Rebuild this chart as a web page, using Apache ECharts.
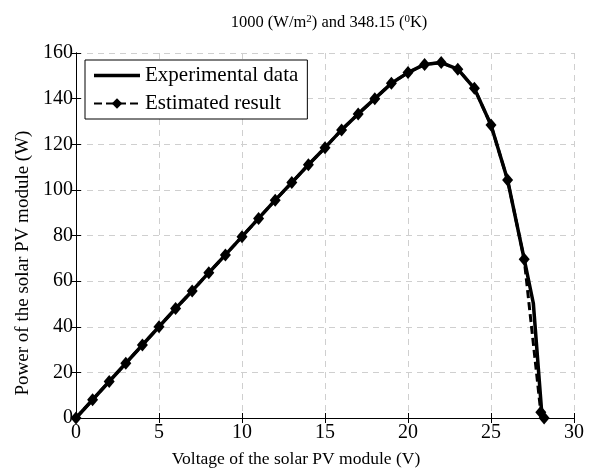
<!DOCTYPE html>
<html>
<head>
<meta charset="utf-8">
<script src="https://cdn.jsdelivr.net/npm/echarts@6/dist/echarts.min.js"></script>
<style>html,body{margin:0;padding:0;background:#fff}#c{width:597px;height:471px}</style>
</head>
<body>
<div id="c"></div>
<script>
// Data
var estVoltage = [0,1,2,3,4,5,6,7,8,9,10,11,12,13,14,15,16,17,18,19,20,21,22,23,24,25,26,27,28,28.2];
var estPower   = [0,8,16,24,32,40,48,55.7,63.7,71.5,79.5,87.5,95.5,103.2,111,118.5,126.3,133.3,140,146.7,151.4,155,155.8,152.9,144.5,128.4,104.3,69.6,2.5,0];
var expVoltage = [0,1,2,3,4,5,6,7,8,9,10,11,12,13,14,15,16,17,18,19,20,21,22,23,24,25,26,27,27.55,28.05,28.2];
var expPower   = [0,8,16,24,32,40,48,55.7,63.7,71.5,79.5,87.5,95.5,103.2,111,118.5,126.3,133.3,140,146.7,151.4,155,155.8,152.9,144.5,128.4,104.3,69.6,50.3,3,0];
var xTicks = {min: 0, max: 30, interval: 5};
var yTicks = {min: 0, max: 160, interval: 20};

function pairs(xs, ys) { return xs.map(function (x, i) { return [x, ys[i]]; }); }

var FONT = '"Liberation Serif", "Times New Roman", serif';
var chart = echarts.init(document.getElementById('c'), null, {renderer: 'canvas'});
chart.setOption({
  backgroundColor: '#fff',
  animation: false,
  textStyle: {fontFamily: FONT, color: '#000'},
  graphic: [{
    type: 'text', x: 329, y: 14,
    style: {
      text: '1000 (W/m{sup|2}) and 348.15 ({sup|0}K)',
      font: '16.5px ' + FONT, fill: '#000', align: 'center',
      rich: {sup: {fontSize: 11, fontFamily: FONT, verticalAlign: 'top', padding: [0, 0, 7, 0]}}
    }
  }, {
    type: 'text', x: 296, y: 450,
    style: {text: 'Voltage of the solar PV module (V)', font: '17.5px ' + FONT, fill: '#000', align: 'center'}
  }, {
    type: 'text', x: 14, y: 263, rotation: Math.PI / 2,
    style: {text: 'Power of the solar PV module (W)', font: '19px ' + FONT, fill: '#000', align: 'center'}
  }],
  grid: {left: 76, right: 23, top: 53, bottom: 53},
  legend: {
    left: 85, top: 60, orient: 'vertical',
    backgroundColor: '#fff', borderColor: '#000', borderWidth: 1, borderRadius: 0,
    padding: [5, 9, 5, 8], itemGap: 7, itemWidth: 46, itemHeight: 13,
    textStyle: {fontFamily: FONT, fontSize: 21, color: '#000'},
    data: [
      {name: 'Experimental data', icon: 'path://M0,0L46,0L46,3.5L0,3.5Z'},
      {name: 'Estimated result'}
    ]
  },
  xAxis: [{
    type: 'value', min: xTicks.min, max: xTicks.max, interval: xTicks.interval,
    axisLine: {show: true, lineStyle: {color: '#000', width: 1}},
    axisTick: {show: true, inside: true, length: 5, lineStyle: {color: '#000'}},
    axisLabel: {fontFamily: FONT, fontSize: 20, color: '#000', margin: 5},
    splitLine: {show: true, lineStyle: {color: '#cfcfcf', type: [6, 5], width: 1}}
  }, {
    type: 'value', position: 'top', min: xTicks.min, max: xTicks.max, interval: xTicks.interval,
    axisLine: {show: true, lineStyle: {color: '#000', width: 1}},
    axisTick: {show: true, inside: true, length: 5, lineStyle: {color: '#000'}},
    axisLabel: {show: false}, splitLine: {show: false}
  }],
  yAxis: [{
    type: 'value', min: yTicks.min, max: yTicks.max, interval: yTicks.interval,
    axisLine: {show: true, lineStyle: {color: '#000', width: 1}},
    axisTick: {show: true, inside: true, length: 5, lineStyle: {color: '#000'}},
    axisLabel: {fontFamily: FONT, fontSize: 20, color: '#000', margin: 3},
    splitLine: {show: true, lineStyle: {color: '#cfcfcf', type: [6, 5], width: 1}}
  }, {
    type: 'value', position: 'right', min: yTicks.min, max: yTicks.max, interval: yTicks.interval,
    axisLine: {show: true, lineStyle: {color: '#000', width: 1}},
    axisTick: {show: true, inside: true, length: 5, lineStyle: {color: '#000'}},
    axisLabel: {show: false}, splitLine: {show: false}
  }],
  series: [{
    name: 'Experimental data', type: 'line', data: pairs(expVoltage, expPower),
    symbol: 'none', lineStyle: {color: '#000', width: 3.5}, itemStyle: {color: '#000'}, z: 3
  }, {
    name: 'Estimated result', type: 'line', data: pairs(estVoltage, estPower),
    symbol: 'diamond', symbolSize: [11, 13], showSymbol: true,
    lineStyle: {color: '#000', width: 3, type: [8, 4]}, itemStyle: {color: '#000'}, z: 4
  }]
});
</script>
</body>
</html>
